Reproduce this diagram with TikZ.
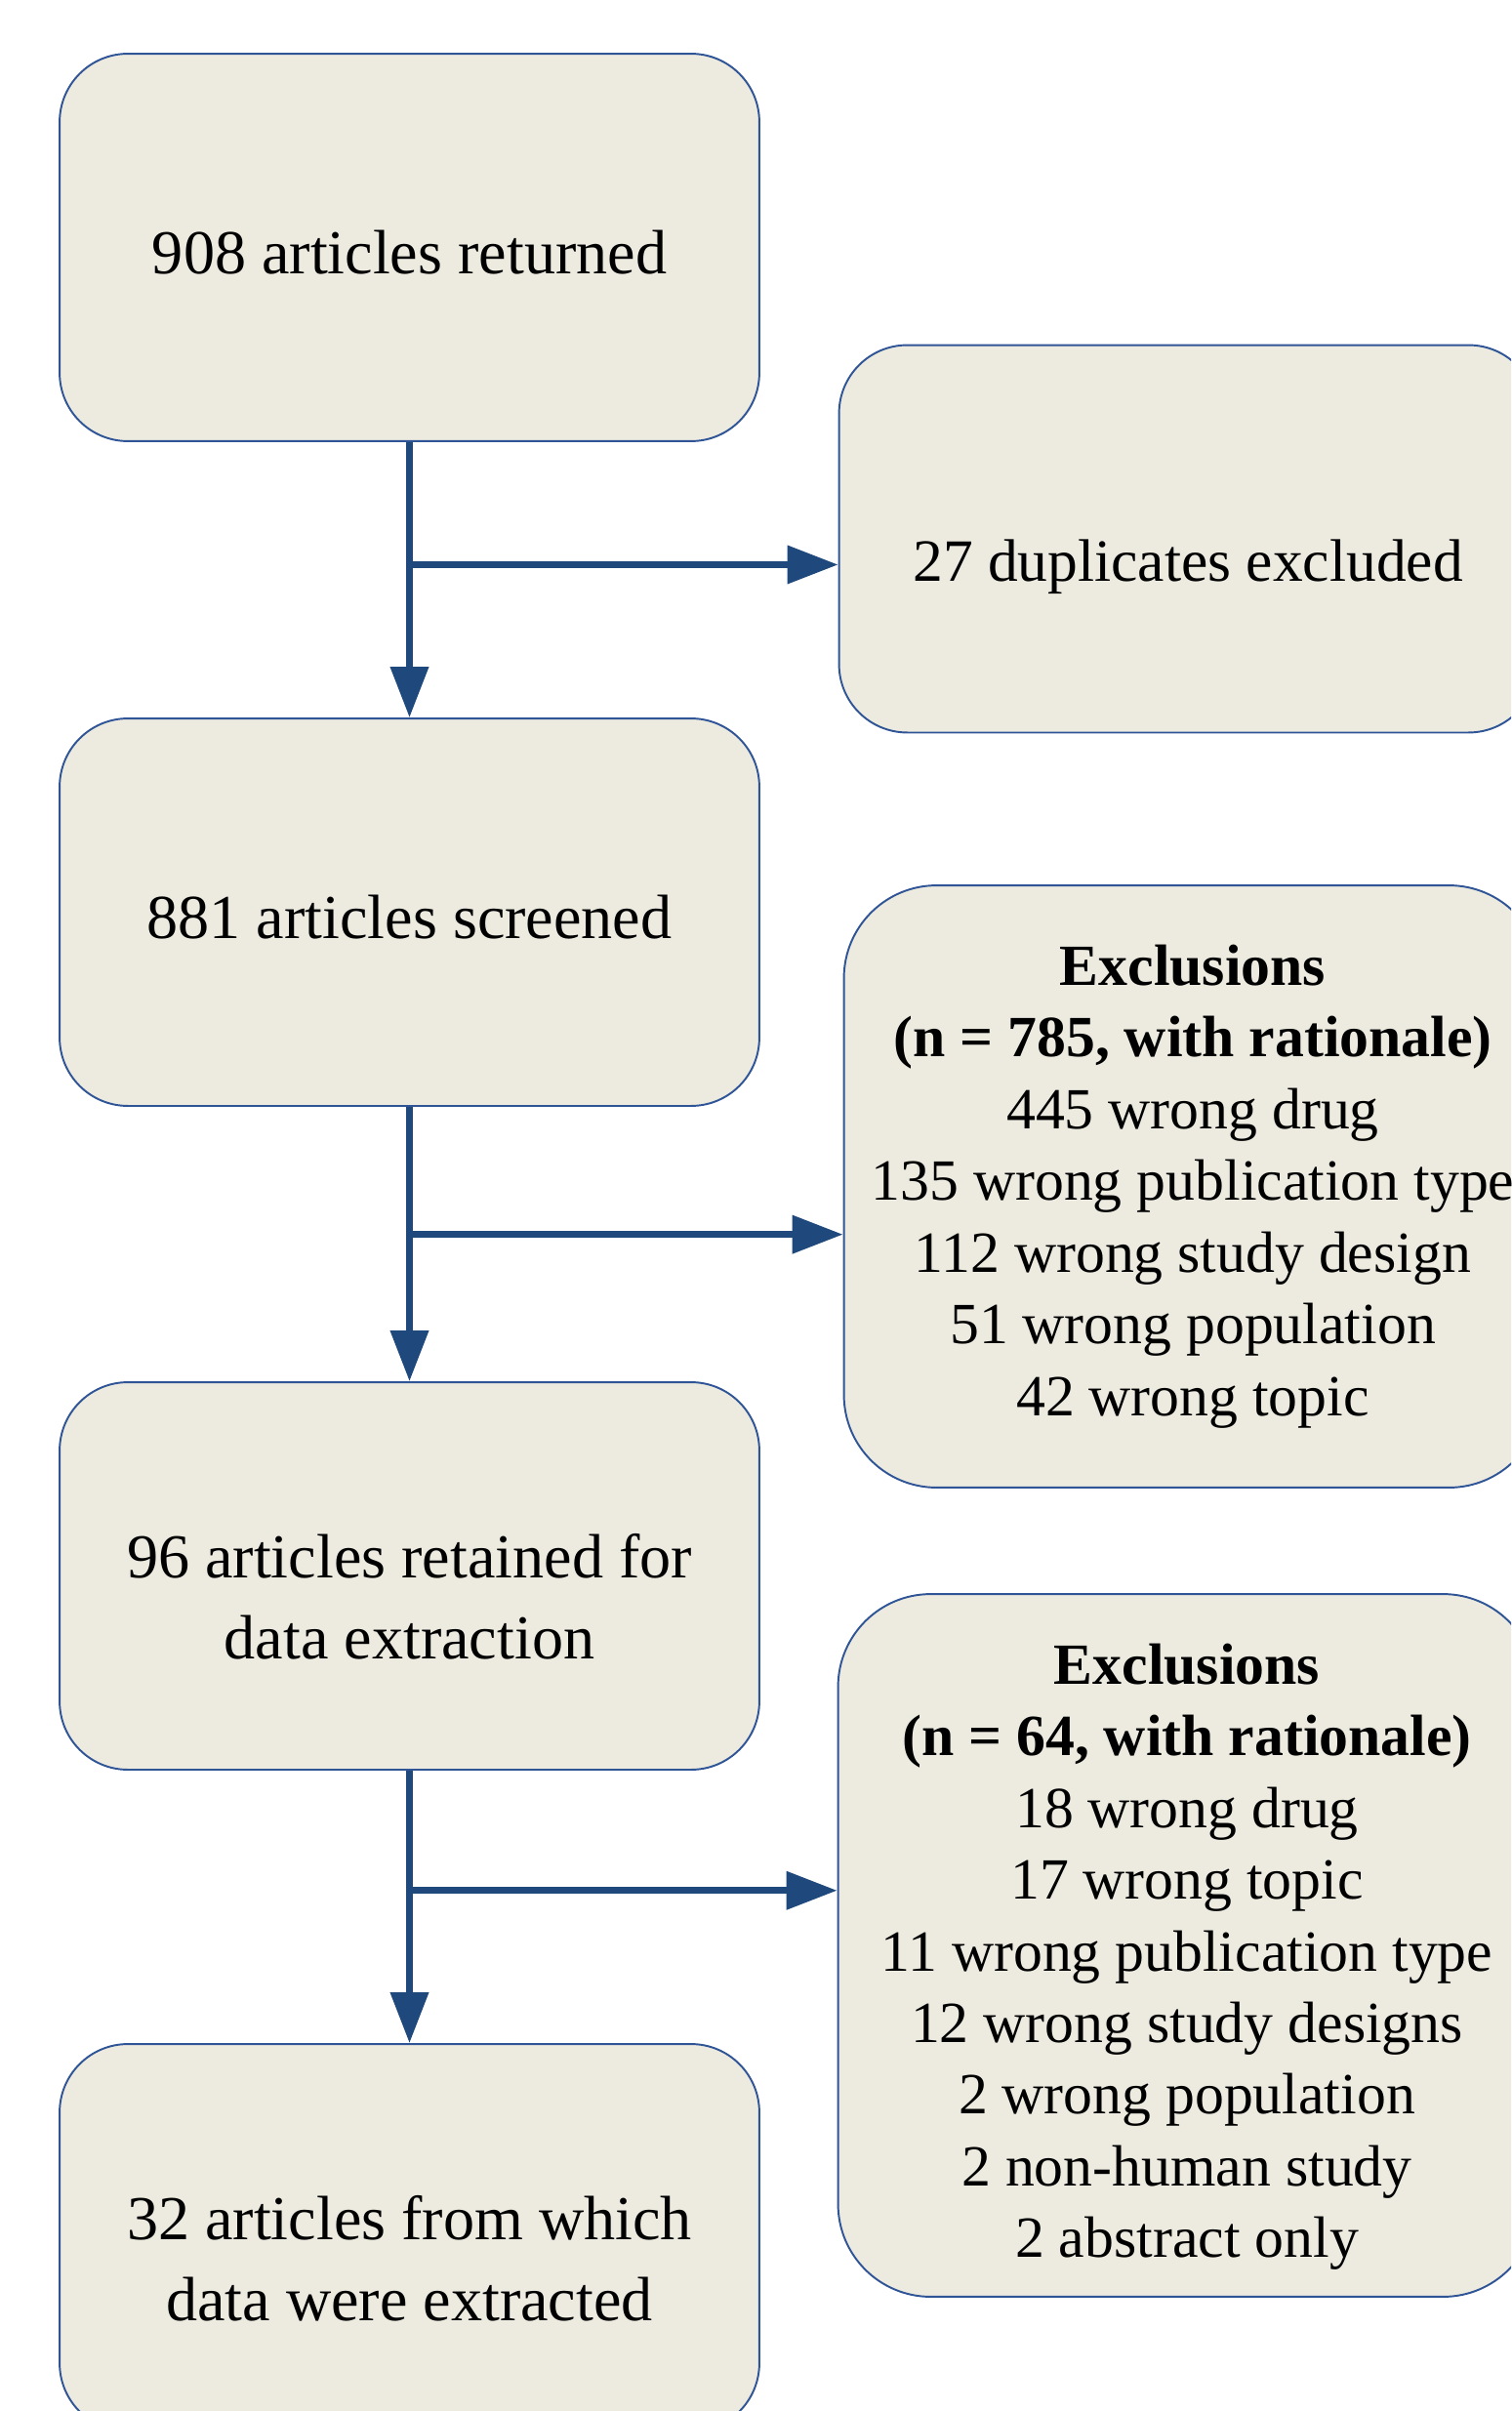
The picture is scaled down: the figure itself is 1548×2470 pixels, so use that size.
\documentclass[tikz,border=0pt]{standalone}
\usepackage{fontspec}
\setmainfont{Liberation Serif}
\usetikzlibrary{arrows.meta,calc}

\definecolor{boxfill}{RGB}{237,235,224}
\definecolor{boxline}{RGB}{47,85,151}
\definecolor{flowblue}{RGB}{31,73,125}
\newcommand{\lift}{\rule{0pt}{1.75cm}}

\begin{document}
\begin{tikzpicture}[x=0.02cm,y=-0.02cm,
  stage/.style={draw=boxline,line width=1.1pt,fill=boxfill,rounded corners=1.4cm,
    minimum width=14.34cm,minimum height=7.94cm,align=center,inner sep=0pt,
    font=\fontsize{36.5}{47}\selectfont},
  dropbox/.style={stage,minimum width=14.3cm,font=\fontsize{34}{41.8}\selectfont},
  flow/.style={draw=flowblue,line width=4pt,-{Triangle[width=0.76cm,length=1.04cm]}}]
\clip (0,0) rectangle (1548,2470);

% main stages
\node[stage] (ret) at (419.5,253.5) {\rule{0pt}{1.1cm}908 articles returned};
\node[stage] (scr) at (419.5,934.5) {\rule{0pt}{1.1cm}881 articles screened};
\node[stage] (kept) at (419.5,1614.5) {\lift 96 articles retained for\\data extraction};
\node[stage] (final) at (419.5,2292.5) {\lift 32 articles from which\\data were extracted};

% excluded records
\node[dropbox,font=\fontsize{35}{42}\selectfont] (dup) at (1217,552)
  {\rule{0pt}{2cm}27 duplicates excluded};
\node[dropbox,rounded corners=1.9cm,minimum height=12.34cm] (exA) at (1222,1215.5)
  {\textbf{Exclusions}\\\textbf{(n = 785, with rationale)}\\445 wrong drug\\
   135 wrong publication type\\112 wrong study design\\51 wrong population\\42 wrong topic};
\node[dropbox,rounded corners=1.9cm,minimum height=14.4cm] (exB) at (1216,1993)
  {\rule{0pt}{1.3cm}\textbf{Exclusions}\\\textbf{(n = 64, with rationale)}\\18 wrong drug\\17 wrong topic\\
   11 wrong publication type\\12 wrong study designs\\2 wrong population\\
   2 non-human study\\2 abstract only};

% arrows
\coordinate (j1) at ($(ret.south)!0.445!(scr.north)$);
\coordinate (j2) at ($(scr.south)!0.465!(kept.north)$);
\coordinate (j3) at ($(kept.south)!0.44!(final.north)$);
\draw[flow] (ret.south) -- (scr.north);
\draw[flow] (scr.south) -- (kept.north);
\draw[flow] (kept.south) -- (final.north);
\draw[flow] (j1) -- (j1 -| dup.west);
\draw[flow] (j2) -- (j2 -| exA.west);
\draw[flow] (j3) -- (j3 -| exB.west);
\end{tikzpicture}
\end{document}
